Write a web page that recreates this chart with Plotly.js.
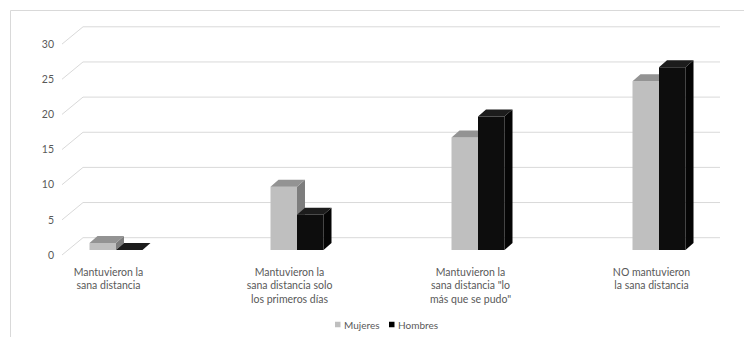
<!DOCTYPE html>
<html>
<head>
<meta charset="utf-8">
<script src="https://cdn.plot.ly/plotly-3.0.1.min.js"></script>
<style>html,body{margin:0;padding:0;background:#fff;}#chart{width:744px;height:337px;}</style>
</head>
<body>
<div id="chart"></div>
<script>
// ---- data ----
const categories = [
  'Mantuvieron la<br>sana distancia',
  'Mantuvieron la<br>sana distancia solo<br>los primeros días',
  'Mantuvieron la<br>sana distancia "lo<br>más que se pudo"',
  'NO mantuvieron<br>la sana distancia'
];
const seriesNames = ['Mujeres', 'Hombres'];
const mujeres = [1, 9, 16, 24];
const hombres = [0, 5, 19, 26];
const yTicks = [0, 5, 10, 15, 20, 25, 30];

// ---- geometry (pixels) ----
const W = 744, H = 337;
const L = 60, R = 24, T = 20, B = 77;
const plotW = W - L - R, plotH = H - T - B;
const PXX = 181, PXY = 7.03;
const cat0Px = 108.5, zeroPx = 250;
const xr0 = (L - cat0Px) / PXX, xr1 = xr0 + plotW / PXX;
const yr0 = -(T + plotH - zeroPx) / PXY, yr1 = (zeroPx - T) / PXY;
const px2x = p => xr0 + (p - L) / PXX;
const pxX = p => (p - L) / plotW;          // pixel -> paper x
const pxY = p => (T + plotH - p) / plotH;  // pixel -> paper y
const backShift = (zeroPx - 237.7) / PXY;
const frontShift = (zeroPx - 255) / PXY;
const barW = 26.5 / PXX, barShift = 7.5 / PXX;
const dX = 8 / PXX, dY = 7 / PXY;

const idx = categories.map((c, i) => i);

function faces(vals, off) {
  const top = {x: [], y: []}, side = {x: [], y: []};
  vals.forEach((v, i) => {
    const xl = i + off, xr = xl + barW;
    top.x.push(xl, xr, xr + dX, xl + dX, xl, null);
    top.y.push(v, v, v + dY, v + dY, v, null);
    side.x.push(xr, xr + dX, xr + dX, xr, xr, null);
    side.y.push(0, dY, v + dY, v, 0, null);
  });
  return {top, side};
}

const colors = {
  Mujeres: {front: '#bfbfbf', top: '#939393', side: '#7d7d7d', key: '#bfbfbf'},
  Hombres: {front: '#0d0d0d', top: '#1c1c1c', side: '#050505', key: '#000000'}
};

function seriesTraces(name, vals, off, xa, ya) {
  const c = colors[name];
  const f = faces(vals, off);
  return [
    {type: 'bar', x: idx, y: vals, width: barW, offset: off, xaxis: xa, yaxis: ya,
     marker: {color: c.front, line: {width: 0}}, name: name, showlegend: false, hoverinfo: 'skip'},
    {type: 'scatter', mode: 'lines', x: f.side.x, y: f.side.y, fill: 'toself', fillcolor: c.side,
     line: {width: 0, color: c.side}, xaxis: xa, yaxis: ya, showlegend: false, hoverinfo: 'skip'},
    {type: 'scatter', mode: 'lines', x: f.top.x, y: f.top.y, fill: 'toself', fillcolor: c.top,
     line: {width: 0, color: c.top}, xaxis: xa, yaxis: ya, showlegend: false, hoverinfo: 'skip'}
  ];
}

const grid = '#d9d9d9';

// side-wall diagonals (front tick -> back wall), on the front-plane axis y3
const diag = {x: [], y: []};
yTicks.forEach(t => {
  diag.x.push(px2x(62), px2x(83), null);
  diag.y.push(t, t + backShift - frontShift, null);
});

const traces = [
  ...seriesTraces('Mujeres', mujeres, barShift - barW, 'x', 'y'),
  ...seriesTraces('Hombres', hombres, barShift, 'x2', 'y2'),
  {type: 'scatter', mode: 'lines', x: diag.x, y: diag.y, xaxis: 'x', yaxis: 'y3',
   line: {color: grid, width: 1}, showlegend: false, hoverinfo: 'skip', cliponaxis: false}
];

const shapes = [];
yTicks.forEach(t => {
  shapes.push({type: 'line', xref: 'x', yref: 'y', layer: 'below',
    x0: px2x(83), x1: px2x(720), y0: t + backShift, y1: t + backShift,
    line: {color: grid, width: 1}});
});
// chart-area border
shapes.push({type: 'rect', xref: 'paper', yref: 'paper', layer: 'below',
  x0: pxX(10.5), x1: pxX(770), y0: pxY(10.5), y1: pxY(360),
  line: {color: grid, width: 1}, fillcolor: 'rgba(0,0,0,0)'});

const tickFont = {family: 'Lato, Carlito, sans-serif', size: 10.5, color: '#595959'};

// legend keys (squares) and labels
const keyLeft = [335, 389], keySize = 5.5, keyMidY = 324.5;
const annotations = [];
seriesNames.forEach((n, i) => {
  shapes.push({type: 'rect', xref: 'paper', yref: 'paper', layer: 'above',
    x0: pxX(keyLeft[i]), x1: pxX(keyLeft[i] + keySize),
    y0: pxY(keyMidY - keySize / 2), y1: pxY(keyMidY + keySize / 2),
    line: {width: 0}, fillcolor: colors[n].key});
  annotations.push({xref: 'paper', yref: 'paper', x: pxX(keyLeft[i] + keySize + 1.5), y: pxY(keyMidY),
    xanchor: 'left', yanchor: 'middle', showarrow: false, text: n,
    font: {family: tickFont.family, size: 10, color: '#595959'}});
});

const layout = {
  width: W, height: H,
  margin: {l: L, r: R, t: T, b: B, pad: 0, autoexpand: false},
  paper_bgcolor: '#ffffff', plot_bgcolor: 'rgba(0,0,0,0)',
  barmode: 'overlay',
  hovermode: false,
  showlegend: false,
  xaxis: {range: [xr0, xr1], tickvals: idx, ticktext: categories, showgrid: false,
          zeroline: false, showline: false, ticks: '', tickfont: tickFont, fixedrange: true,
          ticklabelstandoff: 4},
  yaxis: {range: [yr0, yr1], visible: false, fixedrange: true},
  xaxis2: {range: [xr0, xr1], overlaying: 'x', visible: false},
  yaxis2: {range: [yr0, yr1], overlaying: 'y', visible: false},
  yaxis3: {range: [yr0 - frontShift, yr1 - frontShift], overlaying: 'y', anchor: 'x', side: 'left',
           tickvals: yTicks, showgrid: false, zeroline: false, showline: false, ticks: '',
           tickfont: tickFont, ticklabelstandoff: 5},
  shapes: shapes,
  annotations: annotations
};

Plotly.newPlot('chart', traces, layout, {displayModeBar: false, staticPlot: true});
</script>
</body>
</html>
